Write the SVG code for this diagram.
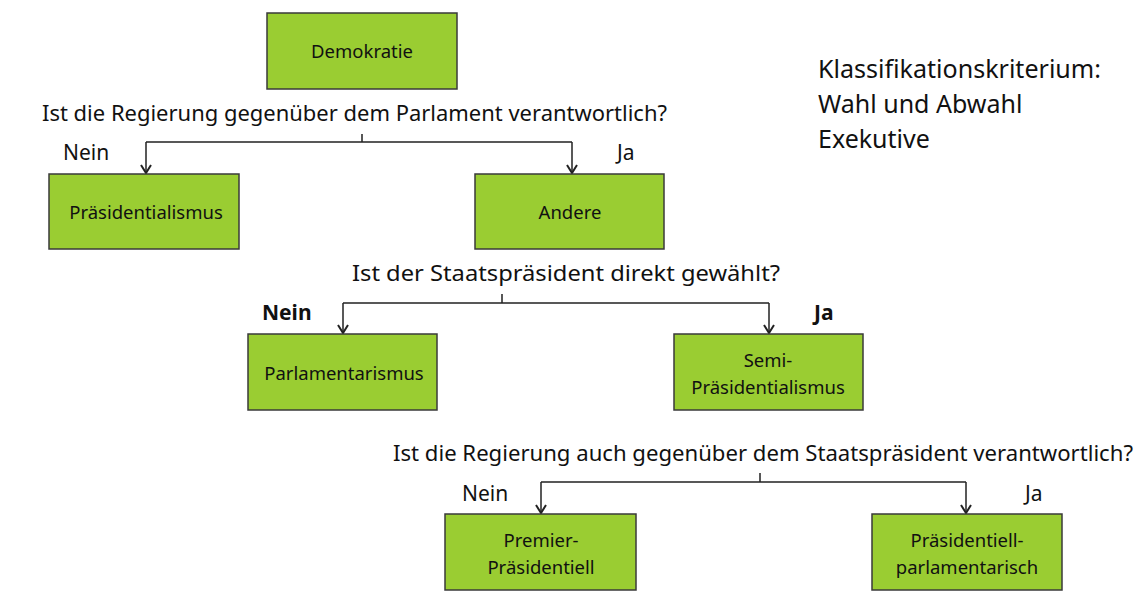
<svg xmlns="http://www.w3.org/2000/svg" width="1144" height="611" viewBox="0 0 1144 611">
<style>
.box{fill:#9acd32;stroke:#3a3a3a;stroke-width:1.5}
.lbl{font-family:"Noto Sans","DejaVu Sans",sans-serif;font-size:18.5px;fill:#111;text-anchor:middle}
.q{font-family:"Noto Sans","DejaVu Sans",sans-serif;font-size:22px;fill:#111}
.yn{font-family:"Noto Sans","DejaVu Sans",sans-serif;font-size:21px;fill:#111}
.b{font-weight:bold}
.con{fill:none;stroke:#222;stroke-width:1.5}
</style>
<defs>
<marker id="arr" viewBox="0 0 12 12" refX="11" refY="6" markerWidth="12" markerHeight="12" markerUnits="userSpaceOnUse" orient="auto">
<path d="M3,1 L11,6 L3,11" fill="none" stroke="#222" stroke-width="2"/>
</marker>
</defs>
<rect width="1144" height="611" fill="#fff"/>
<g id="connectors">
<path class="con" d="M362,134 V142 M146,142 H572"/>
<path class="con" d="M146,142 V173" marker-end="url(#arr)"/>
<path class="con" d="M572,142 V173" marker-end="url(#arr)"/>
<path class="con" d="M502,294 V303 M343,303 H769"/>
<path class="con" d="M343,303 V333" marker-end="url(#arr)"/>
<path class="con" d="M769,303 V333" marker-end="url(#arr)"/>
<path class="con" d="M760,473 V482 M541,482 H966"/>
<path class="con" d="M541,482 V513" marker-end="url(#arr)"/>
<path class="con" d="M966,482 V513" marker-end="url(#arr)"/>
</g>
<g id="demokratie"><rect class="box" x="267" y="13" width="190" height="76"/><text class="lbl" x="362" y="58">Demokratie</text></g>
<g id="praesidentialismus"><rect class="box" x="49" y="174" width="190" height="75"/><text class="lbl" x="146" y="219">Präsidentialismus</text></g>
<g id="andere"><rect class="box" x="475" y="174" width="189" height="75"/><text class="lbl" x="570" y="219">Andere</text></g>
<g id="parlamentarismus"><rect class="box" x="248" y="334" width="189" height="76"/><text class="lbl" x="344" y="380">Parlamentarismus</text></g>
<g id="semi"><rect class="box" x="674" y="334" width="189" height="76"/><text class="lbl" x="768" y="367">Semi-</text><text class="lbl" x="768" y="394">Präsidentialismus</text></g>
<g id="premier"><rect class="box" x="445" y="514" width="191" height="76"/><text class="lbl" x="541" y="547">Premier-</text><text class="lbl" x="541" y="574">Präsidentiell</text></g>
<g id="praesparl"><rect class="box" x="872" y="514" width="190" height="76"/><text class="lbl" x="967" y="547">Präsidentiell-</text><text class="lbl" x="967" y="574">parlamentarisch</text></g>
<g id="labels">
<text class="q" x="42" y="121" textLength="625" lengthAdjust="spacingAndGlyphs">Ist die Regierung gegenüber dem Parlament verantwortlich?</text>
<text class="yn" x="63" y="160">Nein</text>
<text class="yn" x="617" y="160">Ja</text>
<text class="q" x="352" y="281" textLength="428" lengthAdjust="spacingAndGlyphs">Ist der Staatspräsident direkt gewählt?</text>
<text class="yn b" x="262" y="320">Nein</text>
<text class="yn b" x="814" y="320">Ja</text>
<text class="q" x="393" y="461" textLength="740" lengthAdjust="spacingAndGlyphs">Ist die Regierung auch gegenüber dem Staatspräsident verantwortlich?</text>
<text class="yn" x="462" y="501">Nein</text>
<text class="yn" x="1025" y="501">Ja</text>
</g>
<g id="kriterium" font-family="Noto Sans, DejaVu Sans, sans-serif" font-size="25" fill="#111">
<text x="818" y="78" textLength="283" lengthAdjust="spacingAndGlyphs">Klassifikationskriterium:</text>
<text x="818" y="113">Wahl und Abwahl</text>
<text x="818" y="148">Exekutive</text>
</g>
</svg>
